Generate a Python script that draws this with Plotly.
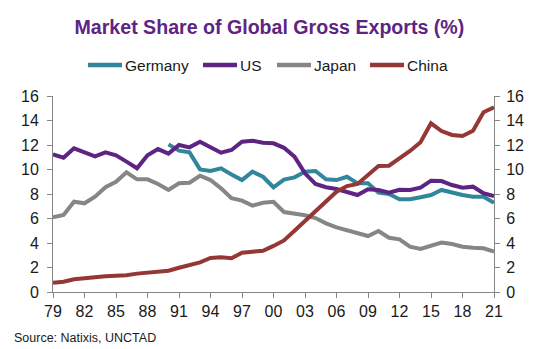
import plotly.graph_objects as go

years = list(range(1979, 2022))

germany = [None] * 11 + [
    12.05, 11.54, 11.40, 10.01, 9.88, 10.10, 9.60, 9.14, 9.82, 9.41,
    8.55, 9.17, 9.36, 9.82, 9.88, 9.20, 9.14, 9.41, 8.87, 8.87,
    8.11, 8.00, 7.57, 7.57, 7.73, 7.92, 8.33, 8.11, 7.92, 7.78,
    7.78, 7.29,
]
us = [
    11.24, 10.96, 11.73, 11.43, 11.07, 11.40, 11.16, 10.64, 10.10, 11.16,
    11.67, 11.30, 12.00, 11.81, 12.27, 11.81, 11.37, 11.59, 12.27, 12.35,
    12.19, 12.14, 11.77, 11.05, 9.69, 8.82, 8.55, 8.41, 8.19, 7.92,
    8.38, 8.33, 8.11, 8.35, 8.33, 8.52, 9.09, 9.06, 8.73, 8.52,
    8.60, 8.06, 7.84,
]
japan = [
    6.10, 6.29, 7.37, 7.24, 7.78, 8.55, 9.00, 9.77, 9.20, 9.20,
    8.82, 8.33, 8.87, 8.92, 9.49, 9.14, 8.46, 7.65, 7.46, 7.05,
    7.29, 7.37, 6.53, 6.42, 6.26, 6.04, 5.60, 5.28, 5.06, 4.79,
    4.57, 4.98, 4.43, 4.30, 3.70, 3.51, 3.76, 4.03, 3.92, 3.70,
    3.62, 3.57, 3.29,
]
china = [
    0.76, 0.84, 1.04, 1.14, 1.17, 1.28, 1.33, 1.36, 1.50, 1.58,
    1.63, 1.74, 1.98, 2.20, 2.42, 2.78, 2.83, 2.75, 3.21, 3.29,
    3.37, 3.76, 4.21, 5.00, 5.80, 6.64, 7.46, 8.19, 8.65, 8.82,
    9.55, 10.29, 10.31, 10.91, 11.51, 12.22, 13.77, 13.14, 12.82, 12.73,
    13.17, 14.67, 15.08,
]

tick_years = list(range(1979, 2022, 3))
tick_labels = ["79", "82", "85", "88", "91", "94", "97", "00",
               "03", "06", "09", "12", "15", "18", "21"]
y_ticks = [0, 2, 4, 6, 8, 10, 12, 14, 16]

series = [
    ("Germany", germany, "#31869B"),
    ("US", us, "#5E2483"),
    ("Japan", japan, "#868686"),
    ("China", china, "#953735"),
]

FONT = "Arial, Liberation Sans, sans-serif"
AXIS_COLOR = "#868686"
TEXT_COLOR = "#1a1a1a"

# plot-area geometry in pixels (used to place the key above the plot)
W, H = 540, 349
L, R, T, B = 53, 46, 96, 57
PW, PH = W - L - R, H - T - B


def px_x(px):
    return (px - L) / PW


def px_y(py):
    return (H - B - py) / PH


fig = go.Figure()
for name, vals, color in series:
    fig.add_trace(go.Scatter(
        x=years, y=vals, name=name, mode="lines",
        line=dict(color=color, width=4),
        connectgaps=False, showlegend=False,
    ))

# invisible trace so the secondary (right) axis is drawn
fig.add_trace(go.Scatter(
    x=years, y=china, yaxis="y2", mode="lines",
    line=dict(color="rgba(0,0,0,0)", width=0),
    showlegend=False, hoverinfo="skip",
))

# key: short line swatch followed by the series name
key_left = [88, 203, 277, 370]
key_len = 34
key_y = 65
shapes, annotations = [], []
for (name, _, color), x0 in zip(series, key_left):
    shapes.append(dict(
        type="line", xref="paper", yref="paper",
        x0=px_x(x0), x1=px_x(x0 + key_len),
        y0=px_y(key_y), y1=px_y(key_y),
        line=dict(color=color, width=4.5),
    ))
    annotations.append(dict(
        text=name, showarrow=False, xref="paper", yref="paper",
        x=px_x(x0 + key_len + 1), xanchor="left",
        y=px_y(key_y), yanchor="middle",
        font=dict(family=FONT, size=15.5, color=TEXT_COLOR),
    ))

annotations.append(dict(
    text="Source: Natixis, UNCTAD", showarrow=False,
    xref="paper", yref="paper",
    x=px_x(12), xanchor="left",
    y=px_y(338), yanchor="middle",
    font=dict(family=FONT, size=12.5, color=TEXT_COLOR),
))

axis_font = dict(family=FONT, size=16, color=TEXT_COLOR)
common_axis = dict(
    showgrid=False, zeroline=False,
    showline=True, linecolor=AXIS_COLOR, linewidth=1,
    ticks="outside", ticklen=5, tickcolor=AXIS_COLOR,
    tickfont=axis_font,
)

fig.update_layout(
    width=W, height=H,
    margin=dict(l=L, r=R, t=T, b=B),
    paper_bgcolor="white", plot_bgcolor="white",
    showlegend=False,
    title=dict(
        text="<b>Market Share of Global Gross Exports (%)</b>",
        font=dict(family=FONT, size=19.6, color="#5E2483"),
        x=265 / W, xanchor="center", xref="paper",
        y=1 - 27 / H, yanchor="middle", yref="container",
    ),
    xaxis=dict(
        range=[1979, 2021], tickmode="array",
        tickvals=tick_years, ticktext=tick_labels,
        **common_axis,
    ),
    yaxis=dict(range=[0, 16], tickvals=y_ticks, ticklabelstandoff=5,
               **common_axis),
    yaxis2=dict(range=[0, 16], tickvals=y_ticks, overlaying="y",
                side="right", ticklabelstandoff=3, **common_axis),
    shapes=shapes,
    annotations=annotations,
)

fig.write_html("out.html")
